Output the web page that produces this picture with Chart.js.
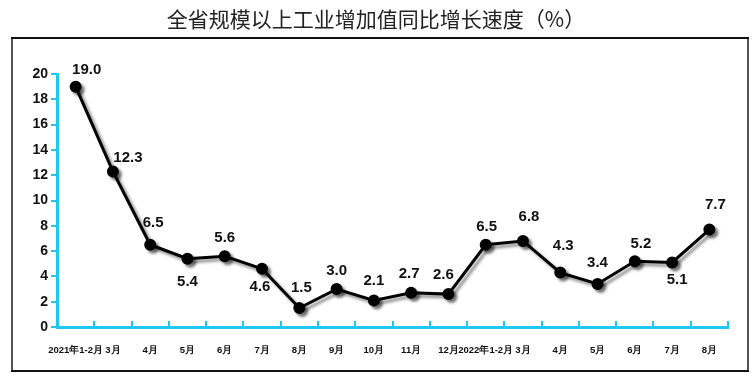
<!DOCTYPE html>
<html>
<head>
<meta charset="utf-8">
<script src="https://cdn.jsdelivr.net/npm/chart.js@4/dist/chart.umd.min.js"></script>
<style>
  html, body { margin: 0; padding: 0; background: #fff; }
  #wrap { position: relative; width: 752px; height: 378px; }
</style>
</head>
<body>
<div id="wrap"><canvas id="gongyeChart" width="752" height="378"></canvas></div>
<script>
const titleText = "全省规模以上工业增加值同比增长速度（%）";
const months = ["2021年1-2月", "3月", "4月", "5月", "6月", "7月", "8月", "9月", "10月", "11月", "12月",
                "2022年1-2月", "3月", "4月", "5月", "6月", "7月", "8月"];
const growth = [19.0, 12.3, 6.5, 5.4, 5.6, 4.6, 1.5, 3.0, 2.1, 2.7, 2.6, 6.5, 6.8, 4.3, 3.4, 5.2, 5.1, 7.7];
const yTicks = [0, 2, 4, 6, 8, 10, 12, 14, 16, 18, 20];

// label offset from each point (px)
const labelOffsets = [[11, -17], [15, -14], [3, -22], [0, 23], [0, -18], [-2, 18], [2, -20], [0, -18], [0, -20],
                      [-2, -19], [-5, -19], [1, -18], [6, -24], [3, -27], [0, -21], [6, -17], [5, 17], [6, -25]];

const cyan = '#1ec6f0';

// title + outer frame
const framePlugin = {
    id: 'frame',
    beforeDraw(chart) {
        const c = chart.ctx;
        c.save();
        c.fillStyle = '#fff';
        c.fillRect(0, 0, chart.width, chart.height);
        c.fillStyle = '#222';
        c.font = '21px "Noto Sans CJK SC"';
        c.textAlign = 'center';
        c.textBaseline = 'middle';
        c.fillText(titleText, 376, 19);
        c.lineWidth = 2;
        c.strokeStyle = '#555';
        c.strokeRect(12, 38, 736, 333);
        c.strokeStyle = '#111';
        c.beginPath();
        c.moveTo(11, 38); c.lineTo(749, 38);
        c.moveTo(11, 371); c.lineTo(749, 371);
        c.stroke();
        c.restore();
    },
    afterDraw(chart) {
        // upward tick marks on x axis at category boundaries
        const x = chart.scales.x;
        const n = months.length;
        const c = chart.ctx;
        c.save();
        c.strokeStyle = cyan;
        c.lineWidth = 2;
        c.beginPath();
        for (let i = 1; i <= n; i++) {
            const px = Math.round(x.left + i * (x.right - x.left) / n);
            c.moveTo(px, x.top);
            c.lineTo(px, x.top - 6);
        }
        c.stroke();
        c.restore();
    }
};

const shadowPlugin = {
    id: 'lineShadow',
    beforeDatasetDraw(chart) {
        const c = chart.ctx;
        c.save();
        c.shadowColor = 'rgba(0,0,0,0.45)';
        c.shadowOffsetX = 3;
        c.shadowOffsetY = 3;
        c.shadowBlur = 3;
    },
    afterDatasetDraw(chart) {
        chart.ctx.restore();
    }
};

const labelPlugin = {
    id: 'valueLabels',
    afterDatasetsDraw(chart) {
        const c = chart.ctx;
        const meta = chart.getDatasetMeta(0);
        c.save();
        c.fillStyle = '#111';
        c.font = 'bold 15px Arial';
        c.textAlign = 'center';
        c.textBaseline = 'middle';
        meta.data.forEach((pt, i) => {
            const off = labelOffsets[i];
            c.fillText(growth[i].toFixed(1), pt.x + off[0], pt.y + off[1]);
        });
        c.restore();
    }
};

document.addEventListener("DOMContentLoaded", function () {
    const ctx = document.getElementById("gongyeChart");
    new Chart(ctx, {
        type: 'line',
        data: {
            labels: months,
            datasets: [{
                data: growth,
                borderColor: '#000',
                borderWidth: 3,
                backgroundColor: '#000',
                pointBackgroundColor: '#000',
                pointBorderColor: '#000',
                pointRadius: 4.5,
                tension: 0,
                fill: false
            }]
        },
        options: {
            responsive: false,
            animation: false,
            events: [],
            layout: { padding: { left: 12, right: 24, top: 74, bottom: 0 } },
            plugins: {
                legend: { display: false },
                title: { display: false },
                tooltip: { enabled: false }
            },
            scales: {
                x: {
                    offset: true,
                    grid: { display: false },
                    border: { color: cyan, width: 3 },
                    ticks: {
                        autoSkip: false,
                        maxRotation: 0,
                        minRotation: 0,
                        padding: 10,
                        color: '#111',
                        font: { family: 'Arial', size: 9.5, weight: 'bold' }
                    },
                    afterFit(scale) { scale.height = 51; }
                },
                y: {
                    min: 0,
                    max: 20,
                    afterBuildTicks(scale) { scale.ticks = yTicks.map(v => ({ value: v })); },
                    grid: { drawOnChartArea: false, color: cyan, lineWidth: 2, tickLength: 6 },
                    border: { color: cyan, width: 3 },
                    ticks: {
                        padding: 3,
                        color: '#111',
                        font: { family: 'Arial', size: 14, weight: 'bold' }
                    },
                    afterFit(scale) { scale.width = 45; }
                }
            }
        },
        plugins: [framePlugin, shadowPlugin, labelPlugin]
    });
});
</script>
</body>
</html>
